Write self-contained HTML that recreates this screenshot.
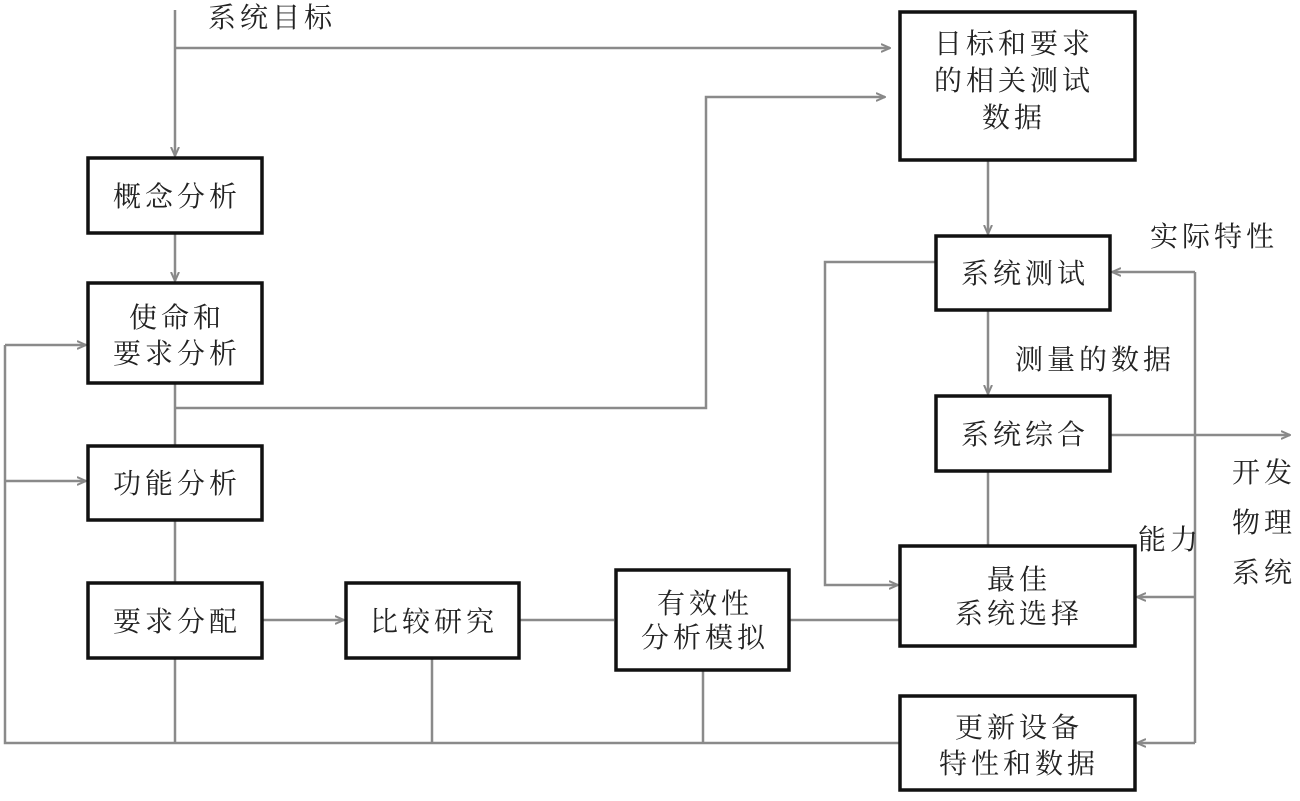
<!DOCTYPE html>
<html><head><meta charset="utf-8"><style>
html,body{margin:0;padding:0;background:#fff;}
body{width:1300px;height:801px;overflow:hidden;position:relative;font-family:"Liberation Serif","Noto Serif CJK SC","Noto Sans CJK SC",serif;}
svg{position:absolute;left:0;top:0;}
text{font-family:"Liberation Serif","Noto Serif CJK SC","Noto Sans CJK SC",serif;font-size:28px;letter-spacing:4px;fill:#222;}
</style></head><body>
<svg width="1300" height="801" viewBox="0 0 1300 801">
<defs><marker id="a" markerWidth="10" markerHeight="10" refX="9" refY="5" orient="auto" markerUnits="userSpaceOnUse"><path d="M0,1 L9,5 L0,9" fill="none" stroke="#888" stroke-width="2"/></marker></defs>
<g stroke="#8a8a8a" stroke-width="2.5" fill="none">
<path d="M175,10 V156" marker-end="url(#a)"/>
<path d="M175,48 H890" marker-end="url(#a)"/>
<path d="M175,233 V281" marker-end="url(#a)"/>
<path d="M175,383 V446"/>
<path d="M175,408 H706 V97 H885" marker-end="url(#a)"/>
<path d="M175,520 V583"/>
<path d="M5,345 V743 H900"/>
<path d="M5,345 H86" marker-end="url(#a)"/>
<path d="M5,481 H86" marker-end="url(#a)"/>
<path d="M175,658 V743 M432,658 V743 M703,670 V743"/>
<path d="M262,620 H344" marker-end="url(#a)"/>
<path d="M519,620 H614"/>
<path d="M789,620 H900"/>
<path d="M988,160 V234" marker-end="url(#a)"/>
<path d="M988,310 V394" marker-end="url(#a)"/>
<path d="M988,471 V546"/>
<path d="M936,262 H825 V585 H898" marker-end="url(#a)"/>
<path d="M1110,435 H1290" marker-end="url(#a)"/>
<path d="M1195,272 V743"/>
<path d="M1195,272 H1112" marker-end="url(#a)"/>
<path d="M1195,597 H1137" marker-end="url(#a)"/>
<path d="M1195,743 H1137" marker-end="url(#a)"/>
</g>
<g stroke="#111" stroke-width="3.5" fill="#fff">
<rect x="88" y="158" width="174" height="75"/>
<rect x="88" y="283" width="174" height="100"/>
<rect x="88" y="446" width="174" height="74"/>
<rect x="88" y="583" width="174" height="75"/>
<rect x="346" y="583" width="173" height="75"/>
<rect x="616" y="570" width="173" height="100"/>
<rect x="900" y="12" width="235" height="148"/>
<rect x="936" y="236" width="174" height="74"/>
<rect x="936" y="396" width="174" height="75"/>
<rect x="900" y="546" width="235" height="100"/>
<rect x="900" y="696" width="235" height="94"/>
</g>
<g text-anchor="middle">
<text x="177" y="206">概念分析</text>
<text x="177" y="327">使命和</text>
<text x="177" y="363">要求分析</text>
<text x="177" y="493">功能分析</text>
<text x="177" y="631">要求分配</text>
<text x="434" y="631">比较研究</text>
<text x="705" y="613">有效性</text>
<text x="705" y="647">分析模拟</text>
<text x="1014" y="53">日标和要求</text>
<text x="1014" y="90">的相关测试</text>
<text x="1014" y="127">数据</text>
<text x="1025" y="283">系统测试</text>
<text x="1025" y="444">系统综合</text>
<text x="1019" y="589">最佳</text>
<text x="1019" y="623">系统选择</text>
<text x="1019" y="737">更新设备</text>
<text x="1019" y="773">特性和数据</text>
</g>
<text x="208" y="27">系统目标</text>
<text x="1150" y="246">实际特性</text>
<text x="1015" y="369">测量的数据</text>
<text x="1138" y="549">能力</text>
<text x="1232" y="482">开发</text>
<text x="1232" y="532">物理</text>
<text x="1232" y="582">系统</text>
</svg>
</body></html>
